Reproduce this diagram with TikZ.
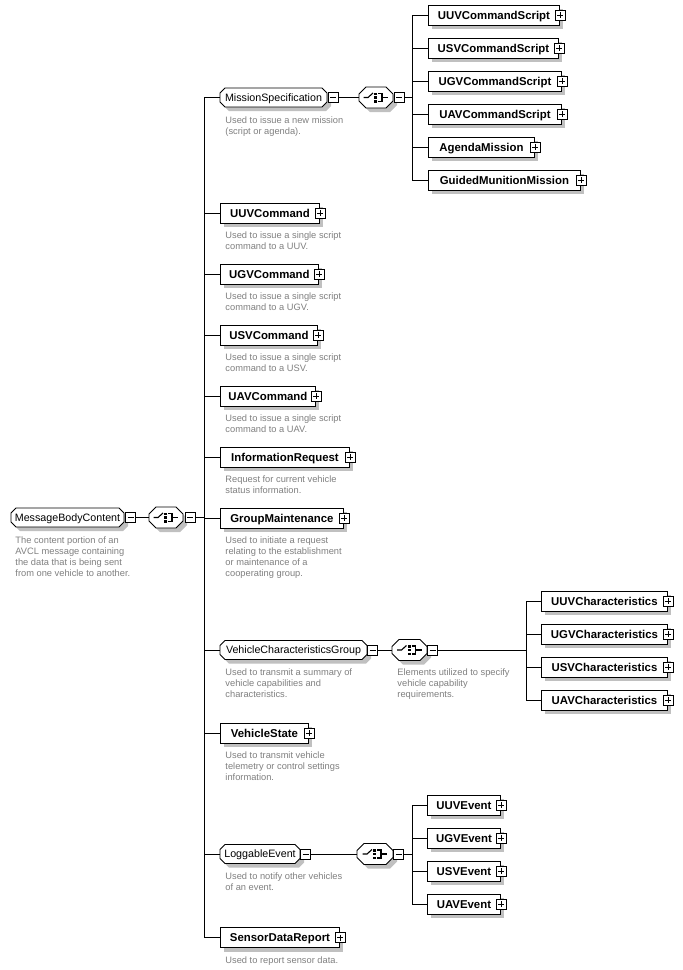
\documentclass[tikz,border=0pt]{standalone}
\usepackage{fontspec}
\setmainfont{Liberation Sans}
\usetikzlibrary{shadows}
\definecolor{shadowc}{RGB}{192,192,192}
\definecolor{descc}{RGB}{128,128,128}
\newcommand{\chpath}[5]{({#1+#5},{#3-#4}) -- ({#2-#5},{#3-#4}) -- (#2,{#3-#4+#5}) -- (#2,{#3+#4-#5}) -- ({#2-#5},{#3+#4}) -- ({#1+#5},{#3+#4}) -- (#1,{#3+#4-#5}) -- (#1,{#3-#4+#5}) -- cycle}
\newcommand{\chshape}[5]{\fill[shadowc,shift={(4,4)}] \chpath{#1}{#2}{#3}{#4}{#5}; \draw[fill=white] \chpath{#1}{#2}{#3}{#4}{#5};}
\tikzset{
  elem/.style={draw, fill=white, rectangle, minimum height=20pt, inner sep=0pt, anchor=west,
    text height=8.2pt, text depth=0pt,
    font=\fontsize{11.4}{13}\selectfont\bfseries,
    drop shadow={shadow xshift=4pt, shadow yshift=-4pt, fill=shadowc, opacity=1}},
  octlabel/.style={draw=none, rectangle, inner sep=0pt, minimum height=19pt,
    text height=7.7pt, text depth=0pt, font=\fontsize{10.7}{13}\selectfont},
  seqnode/.style={draw=none, rectangle, inner sep=0pt, minimum height=21pt},
  minusbox/.style={draw, fill=white, rectangle, minimum size=10pt, inner sep=0pt, line width=0.8pt,
    path picture={\draw[line width=0.8pt] ([xshift=2pt]path picture bounding box.west) -- ([xshift=-2pt]path picture bounding box.east);}},
  plusbox/.style={draw, fill=white, rectangle, minimum size=10pt, inner sep=0pt, line width=0.8pt,
    path picture={\draw[line width=0.8pt] ([xshift=2pt]path picture bounding box.west) -- ([xshift=-2pt]path picture bounding box.east);
      \draw[line width=0.8pt] ([yshift=-2pt]path picture bounding box.north) -- ([yshift=2pt]path picture bounding box.south);}},
  desc/.style={anchor=north west, inner sep=0pt, align=left, text=descc, font=\fontsize{9.3}{11}\selectfont},
  seqicon/.pic={
    \draw[line width=1.1pt] (-12.5,0) -- (-8,0) -- (-3,-4.5);
    \fill (-2,-5) rectangle (1,-2.5);
    \fill (-2,-1.4) rectangle (1,1.4);
    \fill (-2,2.5) rectangle (1,5);
    \draw[line width=1.1pt] (2,-4) -- (6,-4) -- (6,4) -- (2,4);
    \draw[line width=1.1pt] (6,0) -- (12,0);
  }
}
\begin{document}
\begin{tikzpicture}[x=1pt, y=-1pt, line width=0.9pt]
\fill[white] (0,0) rectangle (683,970);
\useasboundingbox (0,0) rectangle (683,970);

% ---------- root ----------
\chshape{11}{124}{517.5}{9.5}{5}
\node[octlabel, minimum width=113pt] (mbc) at (67.5,517.5) {MessageBodyContent};
\node[minusbox] (mbcm) at (130.5,517.5) {};
\chshape{149}{183}{517.5}{10.5}{7}
\node[seqnode, minimum width=34pt] (rseq) at (166,517.5) {};
\pic at (rseq.center) {seqicon};
\node[minusbox] (rseqm) at (190,517.5) {};
\coordinate (rtr) at (204,517.5);
\draw (mbcm.east) -- (rseq.west);
\draw (rseqm.east) -- (rtr);
\node[desc] (dmbc) at (15,536) {The content portion of an\\AVCL message containing\\the data that is being sent\\from one vehicle to another.};

% ---------- MissionSpecification ----------
\chshape{220}{327}{97.5}{9.5}{5}
\node[octlabel, minimum width=107pt] (ms) at (273.5,97.5) {MissionSpecification};
\node[minusbox] (msm) at (333,97.5) {};
\chshape{359}{393}{97.5}{10.5}{7}
\node[seqnode, minimum width=34pt] (msseq) at (376,97.5) {};
\pic at (msseq.center) {seqicon};
\node[minusbox] (msseqm) at (399,97.5) {};
\coordinate (mtr) at (412,97.5);
\draw (msm.east) -- (msseq.west);
\draw (msseqm.east) -- (mtr);
\node[desc] (dms) at (225,116) {Used to issue a new mission\\(script or agenda).};

\node[elem, minimum width=131pt] (uuvcs) at (428,15) {UUVCommandScript};
\node[plusbox] (puuvcs) at (uuvcs.east) {};
\node[elem, minimum width=130pt] (usvcs) at (428,48) {USVCommandScript};
\node[plusbox] (pusvcs) at (usvcs.east) {};
\node[elem, minimum width=133pt] (ugvcs) at (428,81) {UGVCommandScript};
\node[plusbox] (pugvcs) at (ugvcs.east) {};
\node[elem, minimum width=133pt] (uavcs) at (428,114) {UAVCommandScript};
\node[plusbox] (puavcs) at (uavcs.east) {};
\node[elem, minimum width=106pt] (agm) at (428,147) {AgendaMission};
\node[plusbox] (pagm) at (agm.east) {};
\node[elem, minimum width=152pt] (gmm) at (428,180) {GuidedMunitionMission};
\node[plusbox] (pgmm) at (gmm.east) {};
\foreach \n in {uuvcs,usvcs,ugvcs,uavcs,agm,gmm} \draw (\n.west) -| (mtr);

% ---------- simple level-1 elements ----------
\node[elem, minimum width=99pt] (uuvc) at (220,213) {UUVCommand};
\node[plusbox] (puuvc) at (uuvc.east) {};
\node[desc] (duuvc) at (225,231.5) {Used to issue a single script\\command to a UUV.};
\node[elem, minimum width=98pt] (ugvc) at (220,274) {UGVCommand};
\node[plusbox] (pugvc) at (ugvc.east) {};
\node[desc] (dugvc) at (225,292.5) {Used to issue a single script\\command to a UGV.};
\node[elem, minimum width=97pt] (usvc) at (220,335) {USVCommand};
\node[plusbox] (pusvc) at (usvc.east) {};
\node[desc] (dusvc) at (225,353.5) {Used to issue a single script\\command to a USV.};
\node[elem, minimum width=95pt] (uavc) at (220,396) {UAVCommand};
\node[plusbox] (puavc) at (uavc.east) {};
\node[desc] (duavc) at (225,414.5) {Used to issue a single script\\command to a UAV.};
\node[elem, minimum width=129pt] (ir) at (220,457) {InformationRequest};
\node[plusbox] (pir) at (ir.east) {};
\node[desc] (dir) at (225,475.5) {Request for current vehicle\\status information.};
\node[elem, minimum width=123pt] (gm) at (220,518) {GroupMaintenance};
\node[plusbox] (pgm) at (gm.east) {};
\node[desc] (dgm) at (225,536.5) {Used to initiate a request\\relating to the establishment\\or maintenance of a\\cooperating group.};

% ---------- VehicleCharacteristicsGroup ----------
\chshape{220}{367}{650}{9.5}{5}
\node[octlabel, minimum width=147pt] (vcg) at (293.5,650) {VehicleCharacteristicsGroup};
\node[minusbox] (vcgm) at (372.5,650) {};
\chshape{392}{427}{650}{10.5}{7}
\node[seqnode, minimum width=35pt] (vcgseq) at (409.5,650) {};
\pic at (vcgseq.center) {seqicon};
\node[minusbox] (vcgseqm) at (432.5,650) {};
\coordinate (vtr) at (526,650);
\draw (vcgm.east) -- (vcgseq.west);
\draw (vcgseqm.east) -- (vtr);
\node[desc] (dvcg) at (225,668.5) {Used to transmit a summary of\\vehicle capabilities and\\characteristics.};
\node[desc] (dvcgseq) at (397,668.5) {Elements utilized to specify\\vehicle capability\\requirements.};
\node[elem, minimum width=126pt] (uuvch) at (541,601) {UUVCharacteristics};
\node[plusbox] (puuvch) at (uuvch.east) {};
\node[elem, minimum width=126pt] (ugvch) at (541,634) {UGVCharacteristics};
\node[plusbox] (pugvch) at (ugvch.east) {};
\node[elem, minimum width=126pt] (usvch) at (541,667) {USVCharacteristics};
\node[plusbox] (pusvch) at (usvch.east) {};
\node[elem, minimum width=126pt] (uavch) at (541,700) {UAVCharacteristics};
\node[plusbox] (puavch) at (uavch.east) {};
\foreach \n in {uuvch,ugvch,usvch,uavch} \draw (\n.west) -| (vtr);

% ---------- VehicleState ----------
\node[elem, minimum width=88pt] (vs) at (220,733) {VehicleState};
\node[plusbox] (pvs) at (vs.east) {};
\node[desc] (dvs) at (225,751.5) {Used to transmit vehicle\\telemetry or control settings\\information.};

% ---------- LoggableEvent ----------
\chshape{220}{300}{854}{9.5}{5}
\node[octlabel, minimum width=80pt] (le) at (260,854) {LoggableEvent};
\node[minusbox] (lem) at (305.5,854) {};
\chshape{357}{393}{854}{10.5}{7}
\node[seqnode, minimum width=36pt] (leseq) at (375,854) {};
\pic at (leseq.center) {seqicon};
\node[minusbox] (leseqm) at (398.5,854) {};
\coordinate (ltr) at (412,854);
\draw (lem.east) -- (leseq.west);
\draw (leseqm.east) -- (ltr);
\node[desc] (dle) at (225,872.5) {Used to notify other vehicles\\of an event.};
\node[elem, minimum width=73pt] (uuve) at (427,805) {UUVEvent};
\node[plusbox] (puuve) at (uuve.east) {};
\node[elem, minimum width=73pt] (ugve) at (427,838) {UGVEvent};
\node[plusbox] (pugve) at (ugve.east) {};
\node[elem, minimum width=73pt] (usve) at (427,871) {USVEvent};
\node[plusbox] (pusve) at (usve.east) {};
\node[elem, minimum width=73pt] (uave) at (427,904) {UAVEvent};
\node[plusbox] (puave) at (uave.east) {};
\foreach \n in {uuve,ugve,usve,uave} \draw (\n.west) -| (ltr);

% ---------- SensorDataReport ----------
\node[elem, minimum width=119pt] (sdr) at (220,937.5) {SensorDataReport};
\node[plusbox] (psdr) at (sdr.east) {};
\node[desc] (dsdr) at (225,956) {Used to report sensor data.};

% ---------- root trunk connectors ----------
\foreach \n in {ms,uuvc,ugvc,usvc,uavc,ir,gm,vcg,vs,le,sdr} \draw (\n.west) -| (rtr);
\end{tikzpicture}
\end{document}
